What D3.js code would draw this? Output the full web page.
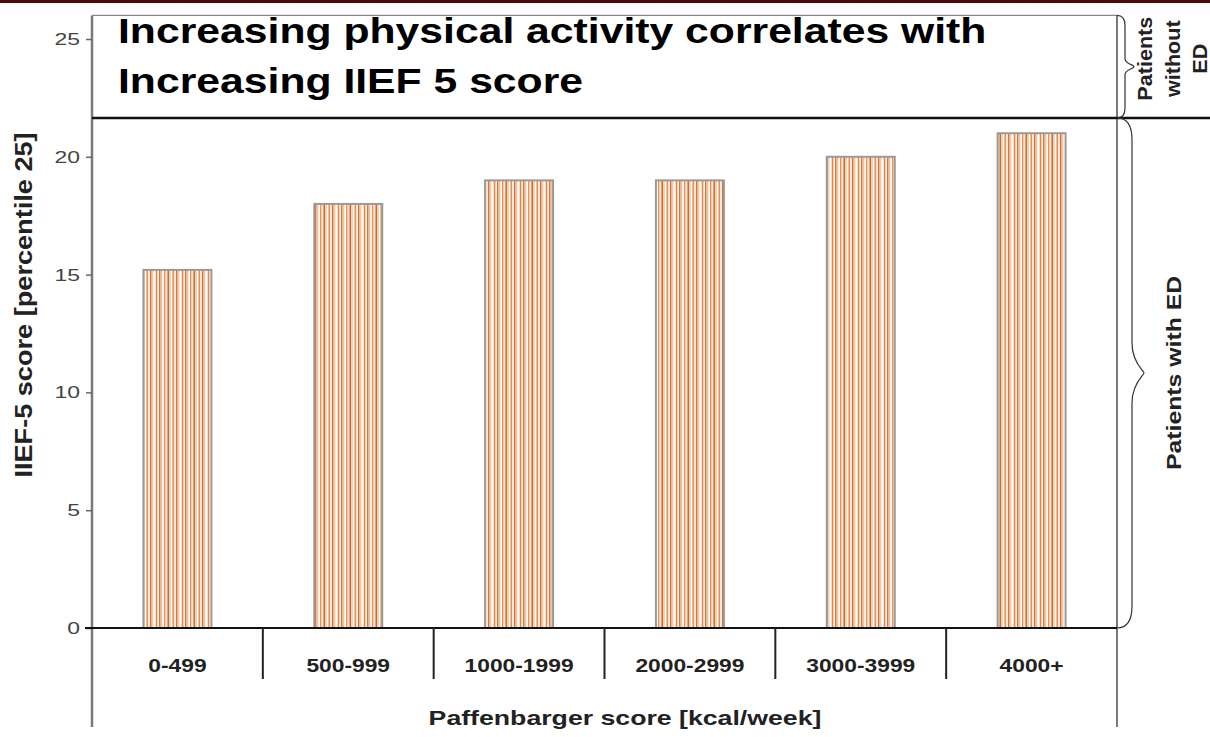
<!DOCTYPE html>
<html><head><meta charset="utf-8">
<script src="https://cdn.jsdelivr.net/npm/d3@7"></script>
<style>html,body{margin:0;padding:0;background:#fff;}svg{display:block;font-family:"Liberation Sans",Arial,sans-serif;}</style>
</head><body>
<svg id="chart" width="1210" height="737"></svg>
<script>
const categories = ["0-499","500-999","1000-1999","2000-2999","3000-3999","4000+"];
const values = [15.2, 18, 19, 19, 20, 21];
const yTicks = [0,5,10,15,20,25];
const titleLines = ["Increasing physical activity correlates with","Increasing IIEF 5 score"];
const groupNoED = ["Patients","without","ED"];
const groupED = "Patients with ED";
const edThreshold = 21.65;
const yMaxBox = 26;

const svg = d3.select("#chart");
const L = 92, R = 1117, B = 628;
const y = d3.scaleLinear().domain([0,25]).range([B,39]);
const x = d3.scaleBand().domain(categories).range([L,R]).paddingInner(0).paddingOuter(0);

function stretchedText(parent, tx, ty, sx, txt, size, weight, anchor, fill, rot){
  return parent.append("text")
    .attr("transform",`translate(${tx},${ty})${rot?" rotate("+rot+")":""} scale(${sx},1)`)
    .attr("text-anchor",anchor||"start")
    .style("font-size",size+"px").style("font-weight",weight||"normal")
    .attr("fill",fill||"#222").text(txt);
}

// top maroon strip
svg.append("rect").attr("x",0).attr("y",0).attr("width",1210).attr("height",3).attr("fill","#4f0a0a");

// stripe pattern
const defs = svg.append("defs");
const pat = defs.append("pattern").attr("id","stripes").attr("patternUnits","userSpaceOnUse")
  .attr("width",26).attr("height",10);
pat.append("rect").attr("width",26).attr("height",10).attr("fill","#f8dcc6");
const stripes = [[0,1.5,"#e0884a"],[1.5,1.5,"#fdf1e6"],[3,1.5,"#d97a3e"],[4.5,2,"#f3c29e"],[6.5,1.5,"#ffffff"],[8,1.5,"#e6925a"],[9.5,2,"#fae4d2"],[11.5,1.5,"#cd6a2e"],[13,2,"#f6d0b2"],[15,1.5,"#ffffff"],[16.5,1.5,"#e39259"],[18,2,"#fbe8d8"],[20,1.5,"#d77236"],[21.5,2,"#f4c8a6"],[23.5,1.5,"#ffffff"]];
stripes.forEach(s=>pat.append("rect").attr("x",s[0]).attr("y",0).attr("width",s[1]).attr("height",10).attr("fill",s[2]));

// bars
const bw = 68;
svg.selectAll("rect.bar").data(values).enter().append("rect").attr("class","bar")
  .attr("x",(d,i)=>x(categories[i])+x.bandwidth()/2-bw/2)
  .attr("y",d=>y(d)).attr("width",bw).attr("height",d=>B-y(d))
  .attr("fill","url(#stripes)").attr("stroke","#9a9a9a").attr("stroke-width",2);

// box lines
const yTop = y(yMaxBox);
svg.append("line").attr("x1",L).attr("x2",L).attr("y1",yTop).attr("y2",727).attr("stroke","#7a7a7a").attr("stroke-width",2.5);
svg.append("line").attr("x1",L).attr("x2",R).attr("y1",yTop).attr("y2",yTop).attr("stroke","#888").attr("stroke-width",1.2);
svg.append("line").attr("x1",R).attr("x2",R).attr("y1",yTop).attr("y2",727).attr("stroke","#333").attr("stroke-width",1.3);
svg.append("line").attr("x1",L).attr("x2",1210).attr("y1",y(edThreshold)).attr("y2",y(edThreshold)).attr("stroke","#111").attr("stroke-width",2.5);

// y axis ticks
const sxTick = 1.35;
const yAxis = d3.axisLeft(y).tickValues(yTicks).tickSize(6).tickPadding(6);
const ga = svg.append("g").attr("transform",`translate(${L},0)`).call(yAxis);
ga.select(".domain").remove();
ga.selectAll(".tick line").attr("stroke","#666").attr("stroke-width",1.5);
ga.selectAll(".tick text").attr("fill","#444").style("font-size","17px")
  .style("font-family","Liberation Sans, Arial, sans-serif")
  .attr("x",-12/sxTick).attr("transform",`scale(${sxTick},1)`);

// x baseline and separators
svg.append("line").attr("x1",85).attr("x2",R).attr("y1",B).attr("y2",B).attr("stroke","#111").attr("stroke-width",2);
categories.slice(1).forEach(c=>{
  svg.append("line").attr("x1",x(c)).attr("x2",x(c)).attr("y1",B).attr("y2",679).attr("stroke","#222").attr("stroke-width",2);
});
categories.forEach(c=>stretchedText(svg, x(c)+x.bandwidth()/2, 672, 1.2, c, 19, "bold", "middle", "#222"));

// axis titles
stretchedText(svg, 625, 725, 1.27, "Paffenbarger score [kcal/week]", 21, "bold", "middle", "#222");
stretchedText(svg, 32, 305, 1.18, "IIEF-5 score [percentile 25]", 23, "bold", "middle", "#222", -90);

// title
titleLines.forEach((t,i)=>stretchedText(svg, 118, 43+i*50, 1.22, t, 35, "bold", "start", "#000"));

// braces
function brace(y0,y1,xv,tip,r,c){
  const ym=(y0+y1)/2, x0=R;
  return `M${x0},${y0} Q${xv},${y0} ${xv},${y0+r} L${xv},${ym-c} C${xv},${ym-c/3} ${xv+tip},${ym-2} ${xv+tip},${ym} C${xv+tip},${ym+2} ${xv},${ym+c/3} ${xv},${ym+c} L${xv},${y1-r} Q${xv},${y1} ${x0},${y1}`;
}
svg.append("path").attr("d",brace(yTop,y(edThreshold),1125,9,10,8)).attr("fill","none").attr("stroke","#333").attr("stroke-width",1.2);
svg.append("path").attr("d",brace(y(edThreshold),B,1132,12,22,30)).attr("fill","none").attr("stroke","#333").attr("stroke-width",1.2);

const midNoED = y((yMaxBox+edThreshold)/2) - 8;
groupNoED.forEach((t,i)=>stretchedText(svg, 1152+i*27.5, midNoED, 1.08, t, 20, "bold", "middle", "#222", -90));
stretchedText(svg, 1181, (y(edThreshold)+B)/2, 1.18, groupED, 21, "bold", "middle", "#222", -90);
</script>
</body></html>
